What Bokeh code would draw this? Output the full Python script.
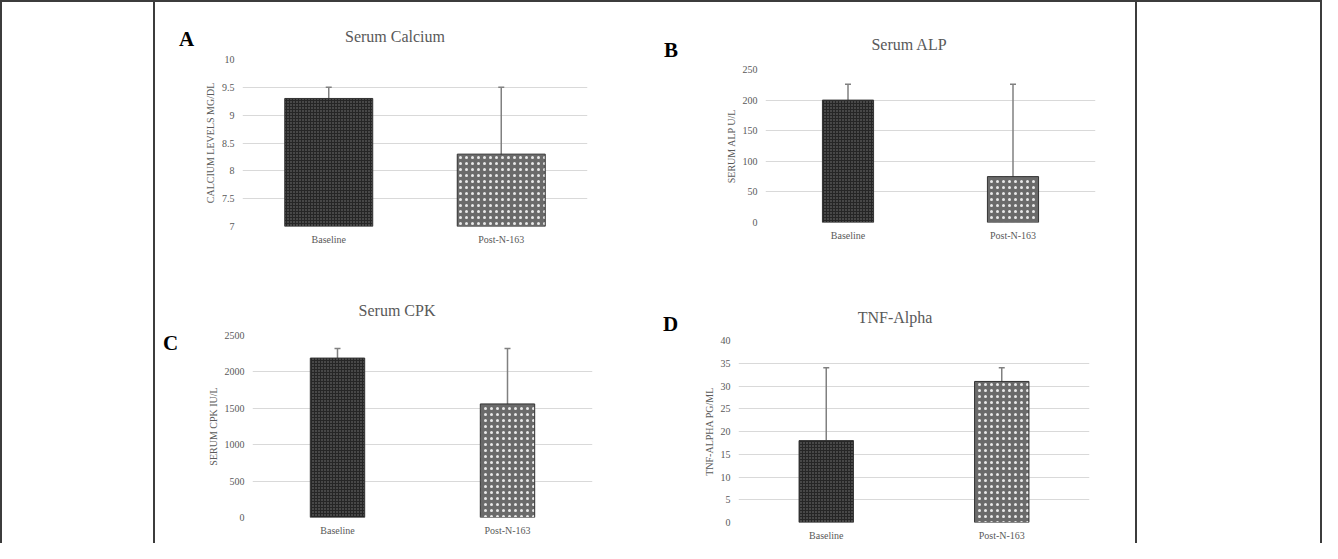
from bokeh.plotting import figure
from bokeh.models import (FactorRange, Range1d, FixedTicker, Whisker, TeeHead,
                          ColumnDataSource, Div)
from bokeh.layouts import row, column
from bokeh.embed import file_html
from bokeh.resources import INLINE

# ---------------- data ----------------
categories = ["Baseline", "Post-N-163"]

calcium_mean = [9.3, 8.3]
calcium_upper = [9.5, 9.5]
calcium_lower = [8.1, 8.1]
calcium_ticks = [7, 7.5, 8, 8.5, 9, 9.5, 10]
calcium_tick_labels = ["7", "7.5", "8", "8.5", "9", "9.5", "10"]

alp_mean = [200, 75]
alp_upper = [226, 226]
alp_lower = [50, 50]
alp_ticks = [0, 50, 100, 150, 200, 250]
alp_tick_labels = ["0", "50", "100", "150", "200", "250"]

cpk_mean = [2190, 1560]
cpk_upper = [2320, 2320]
cpk_lower = [1440, 1440]
cpk_ticks = [0, 500, 1000, 1500, 2000, 2500]
cpk_tick_labels = ["0", "500", "1000", "1500", "2000", "2500"]

tnf_mean = [18, 31]
tnf_upper = [34, 34]
tnf_lower = [15, 15]
tnf_ticks = [0, 5, 10, 15, 20, 25, 30, 35, 40]
tnf_tick_labels = ["0", "5", "10", "15", "20", "25", "30", "35", "40"]

# ---------------- style ----------------
FONT = "Liberation Serif"
TXT = "#595959"
LINE = "#3c3c3c"
bar_fill = ["#262626", "#6a6a6a"]
bar_hatch_color = ["#8a8a8a", "#ffffff"]
bar_hatch_scale = [3, 6]


def chart(ylabel, means, upper, lower, ticks, tick_labels, y0, y1,
          width, height, bl, br, bt, bb, bar_w, ylab_standoff):
    p = figure(x_range=FactorRange(*categories), y_range=Range1d(y0, y1),
               width=width, height=height, min_border_left=bl, min_border_right=br,
               min_border_top=bt, min_border_bottom=bb, toolbar_location=None,
               output_backend="svg", title=None)
    p.outline_line_color = None
    p.background_fill_color = "white"
    p.border_fill_color = "white"
    src = ColumnDataSource(dict(cat=categories, mean=means, upper=upper, lower=lower,
                                fill=bar_fill, hc=bar_hatch_color, hs=bar_hatch_scale))
    p.vbar(x="cat", top="mean", bottom=y0, width=bar_w, source=src,
           fill_color="fill", line_color="#333333", line_width=1,
           hatch_pattern="dot", hatch_color="hc", hatch_scale="hs",
           hatch_weight=1, hatch_alpha=0.85)
    p.add_layout(Whisker(source=src, base="cat", upper="upper", lower="lower",
                         line_color="#808080", line_width=1.5,
                         upper_head=TeeHead(size=6, line_color="#808080", line_width=1.5),
                         lower_head=TeeHead(size=5, line_color="#808080", line_width=1)))
    p.xgrid.visible = False
    p.ygrid.grid_line_color = "#d9d9d9"
    p.ygrid.grid_line_width = 1
    p.yaxis.ticker = FixedTicker(ticks=ticks)
    p.yaxis.major_label_overrides = {t: s for t, s in zip(ticks, tick_labels)}
    for ax in (p.xaxis[0], p.yaxis[0]):
        ax.axis_line_color = None
        ax.major_tick_line_color = None
        ax.minor_tick_line_color = None
        ax.major_tick_out = 0
        ax.major_tick_in = 0
        ax.minor_tick_out = 0
        ax.minor_tick_in = 0
        ax.major_label_text_font = FONT
        ax.major_label_text_font_size = "10px"
        ax.major_label_text_color = TXT
    p.xaxis.major_label_standoff = 7
    p.yaxis.major_label_standoff = 8
    p.yaxis.axis_label = ylabel
    p.yaxis.axis_label_text_font = FONT
    p.yaxis.axis_label_text_font_size = "10px"
    p.yaxis.axis_label_text_font_style = "normal"
    p.yaxis.axis_label_text_color = TXT
    p.yaxis.axis_label_standoff = ylab_standoff
    return p


def letter_div(letter, w, h, left, top):
    html = (f'<div style="margin-left:{left}px;margin-top:{top}px;'
            f'font-family:\'{FONT}\';font-weight:bold;font-size:21px;'
            f'line-height:21px;color:#000;white-space:nowrap">{letter}</div>')
    return Div(text=html, width=w, height=h, margin=0)


def title_div(title, w, h, center, top):
    html = (f'<div style="width:{2 * center}px;text-align:center;margin-top:{top}px;'
            f'font-family:\'{FONT}\';font-size:16px;line-height:18px;'
            f'color:{TXT};white-space:nowrap">{title}</div>')
    return Div(text=html, width=w, height=h, margin=0)


# ---- panel A (x 163..650, y 10..290)
pA = chart("CALCIUM LEVELS MG/DL", calcium_mean, calcium_upper, calcium_lower,
           calcium_ticks, calcium_tick_labels, 7, 10,
           443, 230, 43, 55, 7, 56, 0.51, 3)
panelA = row(letter_div("A", 44, 280, 24, 27),
             column(title_div("Serum Calcium", 443, 50, 196, 26), pA, spacing=0),
             spacing=0)

# ---- panel B (x 650..1143, y 10..290)
pB = chart("SERUM ALP U/L", alp_mean, alp_upper, alp_lower,
           alp_ticks, alp_tick_labels, 0, 250,
           453, 230, 83, 40, 17, 60, 0.31, 3)
panelB = row(letter_div("B", 40, 280, 22, 38),
             column(title_div("Serum ALP", 453, 50, 227, 34), pB, spacing=0),
             spacing=0)

# ---- panel C (x 163..650, y 290..551)
pC = chart("SERUM CPK IU/L", cpk_mean, cpk_upper, cpk_lower,
           cpk_ticks, cpk_tick_labels, 0, 2500,
           460, 216, 70, 50, 8, 26, 0.32, 3)
panelC = row(letter_div("C", 27, 261, 8, 51),
             column(title_div("Serum CPK", 460, 45, 215, 20), pC, spacing=0),
             spacing=0)

# ---- panel D (x 650..1143, y 290..551)
pD = chart("TNF-ALPHA PG/ML", tnf_mean, tnf_upper, tnf_lower,
           tnf_ticks, tnf_tick_labels, 0, 40,
           453, 216, 56, 46, 13, 21, 0.31, 3)
panelD = row(letter_div("D", 40, 261, 21, 32),
             column(title_div("TNF-Alpha", 453, 45, 213, 27), pD, spacing=0),
             spacing=0)


def vline(h):
    return Div(text="", width=2, height=h, margin=0,
               styles={"background-color": LINE})


def blank(w, h):
    return Div(text="", width=w, height=h, margin=0)


H = 541
top_line = Div(text="", width=1322, height=2, margin=0, styles={"background-color": LINE})
middle = column(row(panelA, panelB, spacing=0), row(panelC, panelD, spacing=0), spacing=0)
body = row(vline(H), blank(151, H), vline(H), middle, vline(H), blank(183, H), vline(H),
           spacing=0)
page = column(top_line, body, spacing=0)

open("out.html", "w").write(file_html(page, INLINE))
